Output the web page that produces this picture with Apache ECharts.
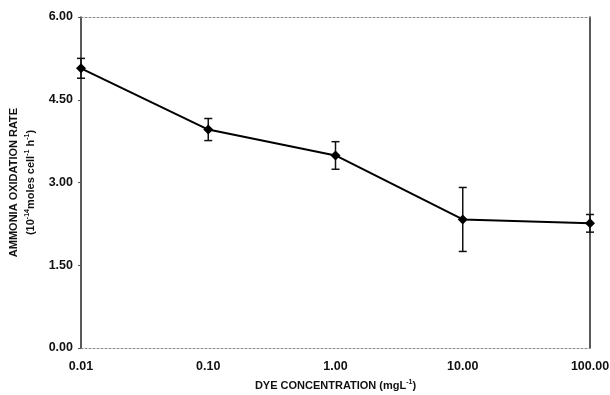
<!DOCTYPE html>
<html>
<head>
<meta charset="utf-8">
<script src="https://cdn.jsdelivr.net/npm/echarts@6/dist/echarts.min.js"></script>
<style>
  html, body { margin: 0; padding: 0; background: #fff; }
  #chart { width: 610px; height: 395px; }
</style>
</head>
<body>
<div id="chart"></div>
<script>
const concentrations = [0.01, 0.1, 1, 10, 100];
const rates = [5.07, 3.96, 3.49, 2.33, 2.26];
const errors = [0.18, 0.2, 0.25, 0.58, 0.16];
const yTicks = [0, 1.5, 3, 4.5, 6];

const font = '"Liberation Sans", Arial, sans-serif';

const chart = echarts.init(document.getElementById('chart'));

const points = concentrations.map((c, i) => [c, rates[i]]);
const bars = concentrations.map((c, i) => [c, rates[i] - errors[i], rates[i] + errors[i]]);

function renderError(params, api) {
  const lo = api.coord([api.value(0), api.value(1)]);
  const hi = api.coord([api.value(0), api.value(2)]);
  const w = 4;
  const style = { stroke: '#111', lineWidth: 1.5 };
  return {
    type: 'group',
    children: [
      { type: 'line', shape: { x1: lo[0], y1: lo[1], x2: hi[0], y2: hi[1] }, style },
      { type: 'line', shape: { x1: lo[0] - w, y1: lo[1], x2: lo[0] + w, y2: lo[1] }, style },
      { type: 'line', shape: { x1: hi[0] - w, y1: hi[1], x2: hi[0] + w, y2: hi[1] }, style }
    ]
  };
}

const nameRich = {
  t: { fontFamily: font, fontWeight: 'bold', fontSize: 11, color: '#111', lineHeight: 17 },
  s: { fontFamily: font, fontWeight: 'bold', fontSize: 7, color: '#111', lineHeight: 17, padding: [0, 0, 7, 0] }
};

const option = {
  animation: false,
  grid: { left: 81, right: 20, top: 17, bottom: 47, outerBoundsMode: 'none', containLabel: false },
  xAxis: [
    {
      type: 'log',
      logBase: 10,
      min: 0.01,
      max: 100,
      position: 'bottom',
      name: '{t|DYE CONCENTRATION (mgL}{s|-1}{t|)}',
      nameLocation: 'middle',
      nameGap: 29,
      nameTextStyle: { rich: nameRich },
      axisLine: { lineStyle: { color: '#888', type: [2, 2], width: 1 } },
      axisTick: { show: false },
      splitLine: { show: false },
      axisLabel: {
        fontFamily: font, fontWeight: 'bold', fontSize: 12.5, color: '#111', margin: 12,
        formatter: v => v.toFixed(2)
      }
    },
    {
      type: 'log',
      logBase: 10,
      min: 0.01,
      max: 100,
      position: 'top',
      axisLine: { show: true, onZero: false, lineStyle: { color: '#888', type: [2, 2], width: 1 } },
      axisTick: { show: false },
      axisLabel: { show: false },
      splitLine: { show: false }
    }
  ],
  yAxis: [
    {
      type: 'value',
      min: yTicks[0],
      max: yTicks[yTicks.length - 1],
      interval: 1.5,
      position: 'left',
      name: '{t|AMMONIA OXIDATION RATE}\n{t|(10}{s|-14}{t|moles cell}{s|-1}{t| h}{s|-1}{t|)}',
      nameLocation: 'middle',
      nameGap: 37,
      nameTextStyle: { rich: nameRich },
      axisLine: { show: true, lineStyle: { color: '#222', width: 1.5 } },
      axisTick: { show: true, length: 3, lineStyle: { color: '#555' } },
      splitLine: { show: false },
      axisLabel: {
        fontFamily: font, fontWeight: 'bold', fontSize: 12.5, color: '#111', margin: 8,
        formatter: v => v.toFixed(2)
      }
    },
    {
      type: 'value',
      min: 0,
      max: 6,
      interval: 1.5,
      position: 'right',
      axisLine: { show: true, lineStyle: { color: '#222', width: 1.5 } },
      axisTick: { show: false },
      axisLabel: { show: false },
      splitLine: { show: false }
    }
  ],
  series: [
    {
      type: 'custom',
      renderItem: renderError,
      data: bars,
      z: 3
    },
    {
      type: 'line',
      data: points,
      symbol: 'diamond',
      symbolSize: 10,
      itemStyle: { color: '#000' },
      lineStyle: { color: '#000', width: 2 },
      z: 4
    }
  ]
};

chart.setOption(option);
</script>
</body>
</html>
